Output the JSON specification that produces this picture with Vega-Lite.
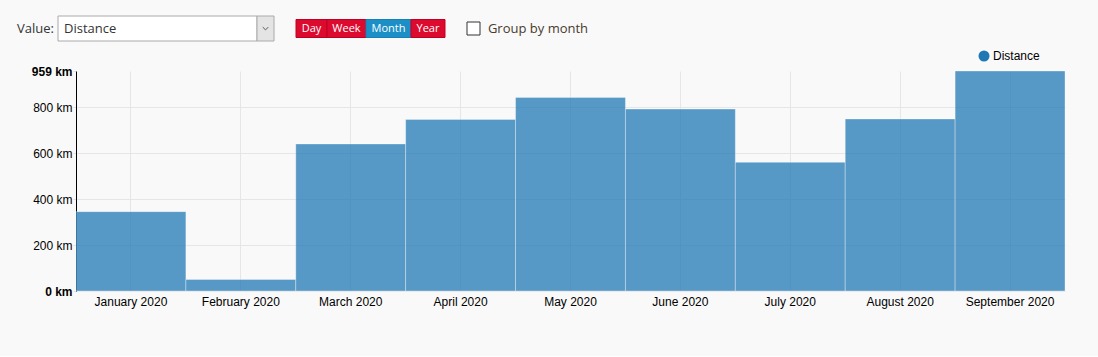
{
  "$schema": "https://vega.github.io/schema/vega-lite/v6.json",
  "background": "#f9f9f9",
  "padding": {"left": 16, "top": 15, "right": 33, "bottom": 49},
  "config": {"view": {"stroke": null}, "font": "Liberation Sans"},
  "spacing": 8,
  "resolve": {"scale": {"color": "independent"}, "legend": {"color": "independent"}},
  "vconcat": [
    {
      "spacing": 0,
      "center": true,
      "bounds": "flush",
      "hconcat": [
        {"width": 39, "height": 25, "data": {"values": [{"t": "Value:"}]},
         "mark": {"type": "text", "font": "Open Sans", "fontSize": 13, "color": "#333333"},
         "encoding": {"text": {"field": "t"}}},
        {"width": 3, "height": 1, "data": {"values": []}, "mark": "rect", "encoding": {}},
        {"width": 199, "height": 25, "data": {"values": [{"t": "Distance"}]},
         "layer": [
           {"mark": {"type": "rect", "fill": "#ffffff", "stroke": "#aaaaaa"},
            "encoding": {"x": {"field": "t", "type": "nominal", "axis": null, "scale": {"paddingInner": 0, "paddingOuter": 0}}}},
           {"mark": {"type": "text", "align": "left", "dx": 6, "font": "Open Sans", "fontSize": 13, "color": "#333333"},
            "encoding": {"x": {"field": "t", "type": "nominal", "bandPosition": 0, "axis": null}, "text": {"field": "t"}}}
         ]},
        {"width": 17, "height": 25, "data": {"values": [{"t": "arrow"}]},
         "layer": [
           {"mark": {"type": "rect", "fill": "#e4e4e4", "stroke": "#aaaaaa"},
            "encoding": {"x": {"field": "t", "type": "nominal", "axis": null, "scale": {"paddingInner": 0, "paddingOuter": 0}}}},
           {"mark": {"type": "point", "shape": "M-1,-0.5L0,0.5L1,-0.5", "filled": false, "stroke": "#555555", "strokeWidth": 1, "size": 30, "opacity": 1},
            "encoding": {}}
         ]},
        {"width": 22, "height": 1, "data": {"values": []}, "mark": "rect", "encoding": {}},
        {"width": 31, "height": 18, "data": {"values": [{"t": "Day"}]},
         "layer": [
           {"mark": {"type": "rect", "fill": "#dc0a2e", "stroke": "#c00022"},
            "encoding": {"x": {"field": "t", "type": "nominal", "axis": null, "scale": {"paddingInner": 0, "paddingOuter": 0}}}},
           {"mark": {"type": "text", "color": "#ffffff", "font": "Open Sans", "fontSize": 11}, "encoding": {"text": {"field": "t"}}}
         ]},
        {"width": 39, "height": 18, "data": {"values": [{"t": "Week"}]},
         "layer": [
           {"mark": {"type": "rect", "fill": "#dc0a2e", "stroke": "#c00022"},
            "encoding": {"x": {"field": "t", "type": "nominal", "axis": null, "scale": {"paddingInner": 0, "paddingOuter": 0}}}},
           {"mark": {"type": "text", "color": "#ffffff", "font": "Open Sans", "fontSize": 11}, "encoding": {"text": {"field": "t"}}}
         ]},
        {"width": 45, "height": 18, "data": {"values": [{"t": "Month"}]},
         "layer": [
           {"mark": {"type": "rect", "fill": "#1b8fc6", "stroke": "#1681b5"},
            "encoding": {"x": {"field": "t", "type": "nominal", "axis": null, "scale": {"paddingInner": 0, "paddingOuter": 0}}}},
           {"mark": {"type": "text", "color": "#ffffff", "font": "Open Sans", "fontSize": 11}, "encoding": {"text": {"field": "t"}}}
         ]},
        {"width": 34, "height": 18, "data": {"values": [{"t": "Year"}]},
         "layer": [
           {"mark": {"type": "rect", "fill": "#dc0a2e", "stroke": "#c00022"},
            "encoding": {"x": {"field": "t", "type": "nominal", "axis": null, "scale": {"paddingInner": 0, "paddingOuter": 0}}}},
           {"mark": {"type": "text", "color": "#ffffff", "font": "Open Sans", "fontSize": 11}, "encoding": {"text": {"field": "t"}}}
         ]},
        {"width": 22, "height": 1, "data": {"values": []}, "mark": "rect", "encoding": {}},
        {"width": 13, "height": 13, "data": {"values": [{"t": "box"}]},
         "mark": {"type": "rect", "fill": "#ffffff", "stroke": "#333333"},
         "encoding": {"x": {"field": "t", "type": "nominal", "axis": null, "scale": {"paddingInner": 0, "paddingOuter": 0}}}},
        {"width": 6, "height": 1, "data": {"values": []}, "mark": "rect", "encoding": {}},
        {"width": 104, "height": 25, "data": {"values": [{"t": "Group by month"}]},
         "mark": {"type": "text", "font": "Open Sans", "fontSize": 13, "color": "#4a3a2c"},
         "encoding": {"text": {"field": "t"}}}
      ]
    },
    {
      "spacing": 0,
      "resolve": {"scale": {"color": "independent"}, "legend": {"color": "independent"}},
      "hconcat": [
        {"width": 15, "height": 1, "data": {"values": []}, "mark": "rect", "encoding": {}},
        {
          "width": 989,
          "height": 220,
          "data": {"values": [
            {"month": "January 2020", "distance": 346, "series": "Distance"},
            {"month": "February 2020", "distance": 50, "series": "Distance"},
            {"month": "March 2020", "distance": 641, "series": "Distance"},
            {"month": "April 2020", "distance": 748, "series": "Distance"},
            {"month": "May 2020", "distance": 844, "series": "Distance"},
            {"month": "June 2020", "distance": 793, "series": "Distance"},
            {"month": "July 2020", "distance": 561, "series": "Distance"},
            {"month": "August 2020", "distance": 750, "series": "Distance"},
            {"month": "September 2020", "distance": 959, "series": "Distance"}
          ]},
          "mark": {"type": "bar", "fillOpacity": 0.75, "stroke": "#ffffff", "strokeOpacity": 0.35, "strokeWidth": 1},
          "encoding": {
            "x": {"field": "month", "type": "nominal", "sort": null,
                  "scale": {"paddingInner": 0, "paddingOuter": 0},
                  "axis": {"title": null, "labelAngle": 0, "ticks": false, "domain": false, "grid": true,
                           "bandPosition": 0.5, "gridColor": "#e6e6e6", "labelFont": "Liberation Sans",
                           "labelFontSize": 12, "labelColor": "#000000", "labelPadding": 5}},
            "y": {"field": "distance", "type": "quantitative",
                  "scale": {"domain": [0, 959], "nice": false},
                  "axis": {"title": null, "values": [0, 200, 400, 600, 800, 959],
                           "labelExpr": "datum.value + ' km'",
                           "labelFontWeight": {"condition": {"test": "datum.value === 0 || datum.value === 959", "value": "bold"}, "value": "normal"},
                           "gridOpacity": {"condition": {"test": "datum.value === 959", "value": 0}, "value": 1},
                           "gridColor": "#e6e6e6", "tickColor": "#e0e0e0", "tickSize": 3, "labelPadding": 1,
                           "domainColor": "#000000", "labelFont": "Liberation Sans", "labelFontSize": 12,
                           "labelColor": "#000000"}},
            "color": {"field": "series", "type": "nominal", "scale": {"range": ["#1f77b4"]},
                      "legend": {"title": null, "orient": "none", "legendX": 902, "legendY": -21,
                                 "symbolType": "circle", "symbolSize": 121, "symbolOpacity": 1,
                                 "symbolStrokeWidth": 0, "labelFont": "Liberation Sans", "labelFontSize": 12,
                                 "labelColor": "#000000", "labelOffset": 3, "padding": 0}}
          }
        }
      ]
    }
  ]
}
